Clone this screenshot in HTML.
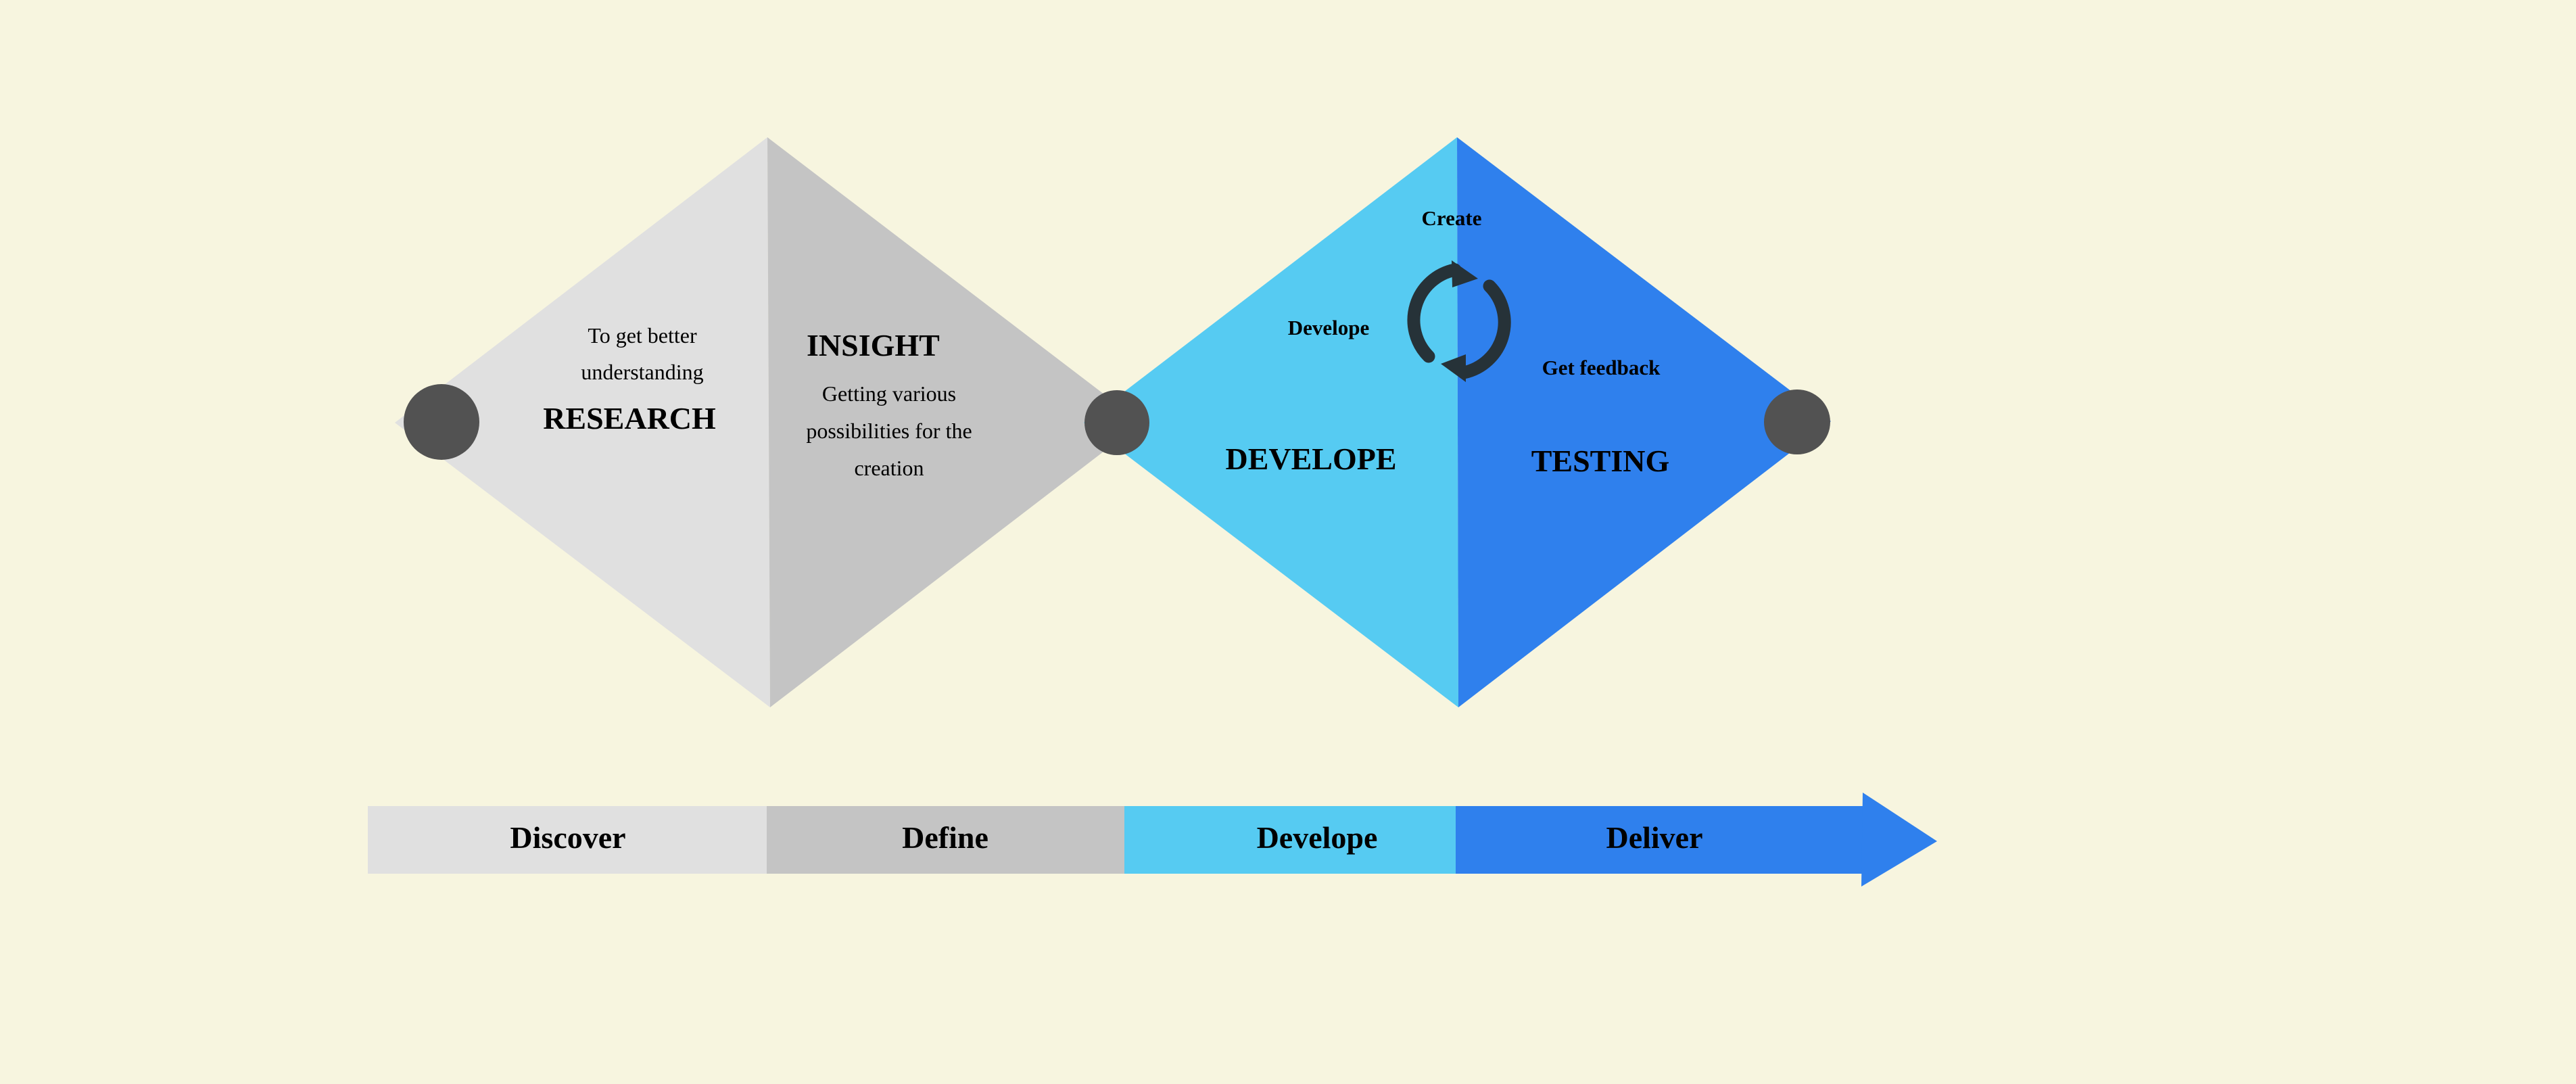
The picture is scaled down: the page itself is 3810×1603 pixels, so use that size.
<!DOCTYPE html>
<html><head><meta charset="utf-8"><style>
html,body{margin:0;padding:0;background:#f7f5df;}
svg{display:block;}
text{font-family:"Liberation Serif",serif;fill:#000;}
.b{font-weight:bold;}
</style></head><body>
<svg width="3810" height="1603" viewBox="0 0 3810 1603" xmlns="http://www.w3.org/2000/svg">
<rect width="3810" height="1603" fill="#f7f5df"/>
<!-- diamond 1 -->
<polygon points="1135,203 584,625 1139,1046" fill="#e0e0e0"/>
<polygon points="1135,203 1688,625 1139,1046" fill="#c4c4c4"/>
<!-- diamond 2 -->
<polygon points="2155,203 1603,625 2157,1046" fill="#56cbf2"/>
<polygon points="2155,203 2708,623 2157,1046" fill="#2f80ed"/>
<!-- circles -->
<ellipse cx="653" cy="624" rx="56" ry="56" fill="#525252"/>
<ellipse cx="1652" cy="625" rx="48" ry="48" fill="#525252"/>
<ellipse cx="2658" cy="624" rx="49" ry="48" fill="#525252"/>
<!-- texts diamond 1 -->
<text x="950" y="507" font-size="32" text-anchor="middle">To get better</text>
<text x="950" y="561" font-size="32" text-anchor="middle">understanding</text>
<text x="931" y="634" font-size="46" class="b" text-anchor="middle">RESEARCH</text>
<text x="1193" y="526" font-size="46" class="b">INSIGHT</text>
<text x="1315" y="593" font-size="32" text-anchor="middle">Getting various</text>
<text x="1315" y="648" font-size="32" text-anchor="middle">possibilities for the</text>
<text x="1315" y="703" font-size="32" text-anchor="middle">creation</text>
<!-- texts diamond 2 -->
<text x="2147" y="333" font-size="31" class="b" text-anchor="middle">Create</text>
<text x="1965" y="495" font-size="31" class="b" text-anchor="middle">Develope</text>
<text x="2368" y="554" font-size="31" class="b" text-anchor="middle">Get feedback</text>
<text x="1939" y="694" font-size="46" class="b" text-anchor="middle">DEVELOPE</text>
<text x="2367" y="697" font-size="46" class="b" text-anchor="middle">TESTING</text>
<!-- cycle icon -->
<g fill="none" stroke="#263238" stroke-width="19" stroke-linecap="round">
<path d="M2113,527 A76,76 0 0 1 2152,399"/>
<path d="M2203,423 A76,76 0 0 1 2165,551"/>
</g>
<polygon points="2147,385 2186,412 2148,425" fill="#263238"/>
<polygon points="2168,524 2131,538 2168,565" fill="#263238"/>
<!-- bottom bar -->
<rect x="544" y="1192" width="590" height="100" fill="#e0e0e0"/>
<rect x="1134" y="1192" width="529" height="100" fill="#c4c4c4"/>
<rect x="1663" y="1192" width="490" height="100" fill="#56cbf2"/>
<rect x="2153" y="1192" width="604" height="100" fill="#2f80ed"/>
<polygon points="2755,1172 2865,1244 2753,1311" fill="#2f80ed"/>
<text x="840" y="1254" font-size="46" class="b" text-anchor="middle">Discover</text>
<text x="1398" y="1254" font-size="46" class="b" text-anchor="middle">Define</text>
<text x="1948" y="1254" font-size="46" class="b" text-anchor="middle">Develope</text>
<text x="2447" y="1254" font-size="46" class="b" text-anchor="middle">Deliver</text>
</svg>
</body></html>
